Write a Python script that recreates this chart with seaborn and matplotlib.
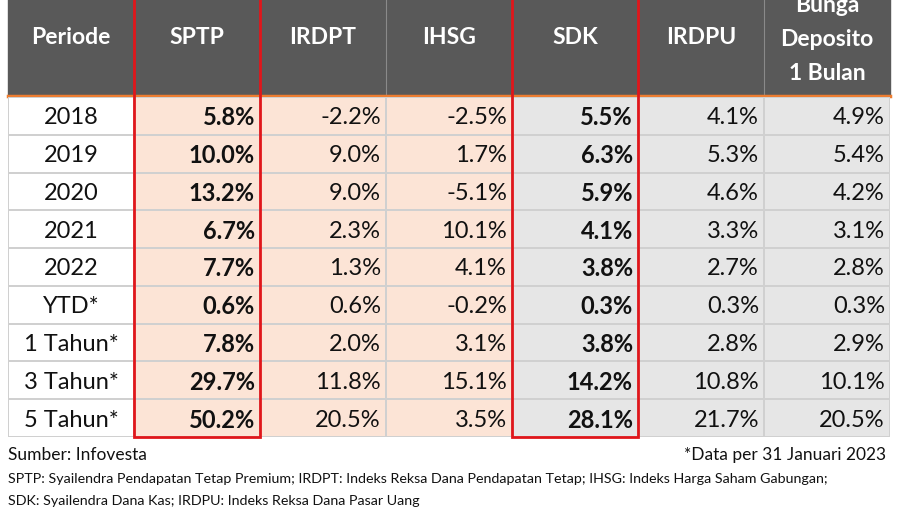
import numpy as np
import pandas as pd
import matplotlib
matplotlib.use("Agg")
import matplotlib.pyplot as plt
from matplotlib.colors import ListedColormap
from matplotlib.patches import Rectangle
import seaborn as sns

periods = ["2018", "2019", "2020", "2021", "2022", "YTD*", "1 Tahun*", "3 Tahun*", "5 Tahun*"]
headers = ["Periode", "SPTP", "IRDPT", "IHSG", "SDK", "IRDPU", "Bunga\nDeposito\n1 Bulan"]
sptp = [5.8, 10.0, 13.2, 6.7, 7.7, 0.6, 7.8, 29.7, 50.2]
irdpt = [-2.2, 9.0, 9.0, 2.3, 1.3, 0.6, 2.0, 11.8, 20.5]
ihsg = [-2.5, 1.7, -5.1, 10.1, 4.1, -0.2, 3.1, 15.1, 3.5]
sdk = [5.5, 6.3, 5.9, 4.1, 3.8, 0.3, 3.8, 14.2, 28.1]
irdpu = [4.1, 5.3, 4.6, 3.3, 2.7, 0.3, 2.8, 10.8, 21.7]
deposito = [4.9, 5.4, 4.2, 3.1, 2.8, 0.3, 2.9, 10.1, 20.5]
series = [sptp, irdpt, ihsg, sdk, irdpu, deposito]
bold_cols = [1, 4]
col_group = [0, 1, 1, 1, 2, 2, 2]  # white, peach, gray

font = ["Liberation Sans Narrow", "Lato", "DejaVu Sans"]
W, H = 900, 508
fig = plt.figure(figsize=(9, 5.08), dpi=100)
bg = fig.add_axes([0, 0, 1, 1])
bg.set_xlim(0, W); bg.set_ylim(H, 0); bg.axis("off")

x0, x1, yh, y0, y1 = 8, 890, 95, 97, 437
cw = (x1 - x0) / 7

codes = pd.DataFrame([col_group for _ in periods], index=periods, columns=headers)
ax = fig.add_axes([x0 / W, 1 - y1 / H, (x1 - x0) / W, (y1 - y0) / H])
sns.heatmap(codes, ax=ax, cmap=ListedColormap(["#FFFFFF", "#FCE4D6", "#E6E6E6"]),
            vmin=-0.5, vmax=2.5, cbar=False, linewidths=1.2, linecolor="#D0D0D0")
ax.set_xticks([]); ax.set_yticks([]); ax.set_xlabel(""); ax.set_ylabel("")
for r, p in enumerate(periods):
    ax.text(0.5, r + 0.55, p, ha="center", va="center", fontsize=17, family=font, color="#111")
    for c, s in enumerate(series, start=1):
        ax.text(c + 0.96, r + 0.55, f"{s[r]:.1f}%", ha="right", va="center", fontsize=17,
                family=font, color="#111", fontweight="bold" if c in bold_cols else "normal")

# header
bg.add_patch(Rectangle((x0, -5), x1 - x0, yh + 5, color="#595959"))
for i in range(1, 7):
    bg.plot([x0 + i * cw] * 2, [0, yh], color="#8a8a8a", lw=0.8)
bg.plot([x0, x1], [yh + 1, yh + 1], color="#ED7D31", lw=2.5)
for i, h in enumerate(headers):
    cx = x0 + (i + 0.5) * cw
    if "\n" in h:
        for j, line in enumerate(h.split("\n")):
            bg.text(cx, 6 + j * 34, line, ha="center", va="center", fontsize=16.5,
                    family=font, color="white", fontweight="bold")
    else:
        bg.text(cx, 38, h, ha="center", va="center", fontsize=16.5, family=font,
                color="white", fontweight="bold")

# overlay for red boxes (on top of heatmap)
top = fig.add_axes([0, 0, 1, 1])
top.set_xlim(0, W); top.set_ylim(H, 0); top.axis("off"); top.patch.set_alpha(0)
for c in bold_cols:
    top.add_patch(Rectangle((x0 + c * cw, -3), cw, y1 + 3, fill=False, ec="#E0161B", lw=2))

top.text(8, 455, "Sumber: Infovesta", ha="left", va="center", fontsize=12.5, family=font, color="#111")
top.text(886, 455, "*Data per 31 Januari 2023", ha="right", va="center", fontsize=12.5, family=font, color="#111")
top.text(8, 479, "SPTP: Syailendra Pendapatan Tetap Premium; IRDPT: Indeks Reksa Dana Pendapatan Tetap; IHSG: Indeks Harga Saham Gabungan;",
         ha="left", va="center", fontsize=10.3, family=font, color="#111")
top.text(8, 501, "SDK: Syailendra Dana Kas; IRDPU: Indeks Reksa Dana Pasar Uang",
         ha="left", va="center", fontsize=10.3, family=font, color="#111")

fig.savefig("out.png", dpi=100, facecolor="white")
